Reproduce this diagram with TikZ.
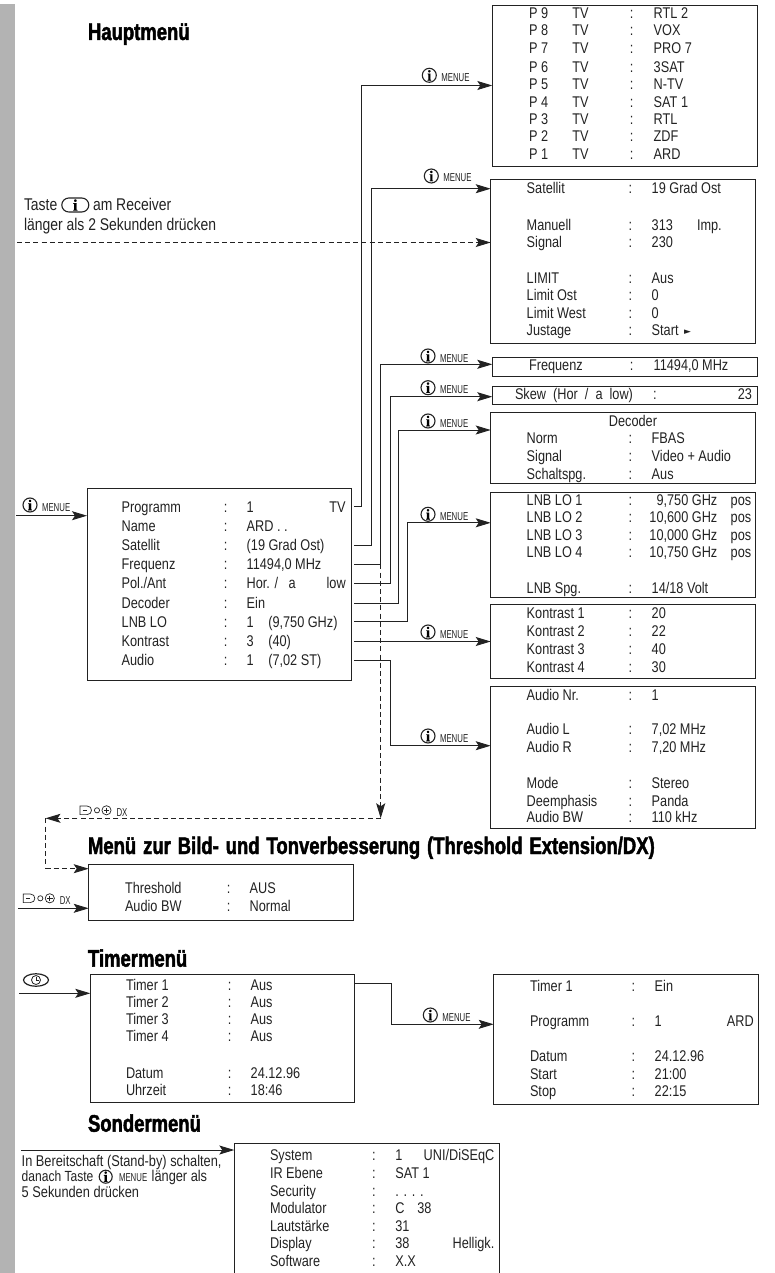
\documentclass[tikz,border=0pt]{standalone}
\usepackage{fontspec}
\usetikzlibrary{arrows.meta,shapes.geometric}
\setmainfont[FakeStretch=0.82]{Liberation Sans}
\newfontfamily\headf[FakeStretch=0.77,FakeBold=1.8]{Liberation Sans Bold}
\newfontfamily\smallf[FakeStretch=0.68]{Liberation Sans}
\newfontfamily\ifont[FakeBold=0.6]{Liberation Serif Bold}
\newfontfamily\symf{DejaVu Sans}
\definecolor{ink}{HTML}{222222}
\definecolor{strip}{HTML}{B3B3B3}
\tikzset{
  x=1pt,y=-1pt,
  mbox/.style={draw=ink,line width=0.9pt,inner sep=0pt,outer sep=0pt,anchor=north west},
  openbox/.style={inner sep=0pt,outer sep=0pt,anchor=north west},
  txt/.style={inner sep=0pt,outer sep=0pt,anchor=base west,text=ink,font=\fontsize{15.5}{17}\selectfont},
  txte/.style={txt,anchor=base east},
  txtc/.style={txt,anchor=base},
  large/.style={txt,font=\fontsize{17}{19}\selectfont},
  small/.style={txt,font=\fontsize{15.6}{17}\selectfont},
  smaller/.style={txt,font=\fontsize{14.7}{17}\selectfont},
  head/.style={inner sep=0pt,outer sep=0pt,anchor=base west,text=black,font=\fontsize{24}{26}\headf},
  menue/.style={inner sep=0pt,outer sep=0pt,anchor=base west,text=ink,font=\fontsize{11.5}{13}\smallf},
  icirc/.style={circle,draw=ink,line width=1.1pt,minimum size=14pt,inner sep=0pt,outer sep=0pt,font=\fontsize{15}{15}\ifont},
  conn/.style={draw=ink,line width=0.9pt,-{Stealth[length=15pt,width=9pt,inset=3pt]}},
  dconn/.style={conn,dash pattern=on 5pt off 3.2pt},
  dline/.style={draw=ink,line width=0.9pt,dash pattern=on 5pt off 3.2pt},
  iconl/.style={draw=ink,line width=0.7pt},
}
\newcounter{tn}
\newcommand\ntx[4][txt]{\stepcounter{tn}\node[#1,name=t\arabic{tn}] at (#2,#3) {#4};}
% row: y, label x, colon x, value x, label, value
\newcommand\mrow[6]{\ntx{#2}{#1}{#5}\ntx[txtc]{#3}{#1}{:}\ntx{#4}{#1}{#6}}
\newcommand\menubox[5]{\node[mbox,name=#1,minimum width=(#4-#2)*1pt,minimum height=(#5-#3)*1pt] at (#2,#3) {};}
\newcommand\imenue[2]{\stepcounter{tn}\node[icirc,name=t\arabic{tn}] at (#1,#2) {i};\ntx[menue]{#1+12}{#2+6}{MENUE}}
\newcommand\dxicon[2]{\begin{scope}[shift={(#1,#2)}]
 \draw[iconl] (0,0) -- (7,0) .. controls (10,0) and (11.5,2) .. (11.5,4.3) .. controls (11.5,6.6) and (10,8.6) .. (7,8.6) -- (0,8.6) -- cycle;
 \draw[iconl] (2.5,4.3) -- (7,4.3);
 \draw[iconl] (17,4.3) circle (2.6);
 \draw[iconl] (26.5,4.3) circle (4.6);
 \draw[iconl] (23.8,4.3) -- (29.2,4.3) (26.5,1.6) -- (26.5,7);
 \end{scope}
 \ntx[menue]{#1+36.5}{#2+10}{DX}}
\begin{document}
\begin{tikzpicture}
\useasboundingbox (0,0) rectangle (774,1273);
\fill[strip] (0,4) rectangle (15,1273);

% headings
\node[head,name=hA] at (88,40) {Hauptmenü};
\node[head,name=hB] at (88,854) {\spaceskip=6.9pt Menü zur Bild- und Tonverbesserung (Threshold Extension/DX)};
\node[head,name=hC] at (88,966.7) {Timermenü};
\node[head,name=hD] at (88,1131.7) {Sondermenü};

% boxes
\menubox{bMain}{87}{488.3}{351.3}{680}
\menubox{bP}{492.3}{5}{757.3}{166}
\menubox{bSat}{490.7}{179}{755.3}{343}
\menubox{bFreq}{492.3}{357.7}{757.3}{376}
\menubox{bSkew}{492.3}{386}{757.3}{404.3}
\menubox{bDec}{490.7}{412.7}{755.3}{483.3}
\menubox{bLnb}{490.7}{492}{755.3}{597.3}
\menubox{bKon}{490.7}{604.3}{755.3}{678}
\menubox{bAud}{490.7}{686.7}{755.3}{828.3}
\menubox{bThr}{88.7}{864}{353.3}{920.3}
\menubox{bTim}{90.3}{974}{354.7}{1102.3}
\menubox{bTd}{493.7}{974}{758.7}{1104.3}
\node[openbox,name=bSon,minimum width=264.7pt,minimum height=129.3pt] at (234.3,1143.7) {};
\draw[draw=ink,line width=0.9pt] (bSon.south west) -- (bSon.north west) -- (bSon.north east) -- (bSon.south east);

% main menu
\mrow{512}{121.7}{225.7}{246.7}{Programm}{1}\ntx[txte]{345.7}{512}{TV}
\mrow{531}{121.7}{225.7}{246.7}{Name}{ARD . .}
\mrow{550}{121.7}{225.7}{246.7}{Satellit}{(19 Grad Ost)}
\mrow{569}{121.7}{225.7}{246.7}{Frequenz}{11494,0 MHz}
\mrow{588}{121.7}{225.7}{246.7}{Pol./Ant}{Hor. /}\ntx{288.7}{588}{a}\ntx[txte]{345.7}{588}{low}
\mrow{608}{121.7}{225.7}{246.7}{Decoder}{Ein}
\mrow{627}{121.7}{225.7}{246.7}{LNB LO}{1}\ntx{268.3}{627}{(9,750 GHz)}
\mrow{646}{121.7}{225.7}{246.7}{Kontrast}{3}\ntx{268.3}{646}{(40)}
\mrow{665}{121.7}{225.7}{246.7}{Audio}{1}\ntx{268.3}{665}{(7,02 ST)}

% program list
\newcommand\prow[3]{\ntx{529}{#1}{#2}\ntx{572.3}{#1}{TV}\ntx[txtc]{631.7}{#1}{:}\ntx{653.7}{#1}{#3}}
\prow{18.3}{P 9}{RTL 2}
\prow{36}{P 8}{VOX}
\prow{54}{P 7}{PRO 7}
\prow{72.3}{P 6}{3SAT}
\prow{90}{P 5}{N-TV}
\prow{107.3}{P 4}{SAT 1}
\prow{125}{P 3}{RTL}
\prow{142}{P 2}{ZDF}
\prow{160}{P 1}{ARD}

% right column rows
\newcommand\rrow[3]{\mrow{#1}{526.7}{630.3}{651.7}{#2}{#3}}
\rrow{194}{Satellit}{19 Grad Ost}
\rrow{230.3}{Manuell}{313}\ntx{697}{230.3}{Imp.}
\rrow{247.3}{Signal}{230}
\rrow{283}{LIMIT}{Aus}
\rrow{300.3}{Limit Ost}{0}
\rrow{318.3}{Limit West}{0}
\rrow{335.3}{Justage}{Start}\ntx[txt,font=\fontsize{9}{10}\symf]{684}{334.5}{►}

\mrow{370.7}{529}{631.7}{653.7}{Frequenz}{11494,0 MHz}
\ntx{515}{399}{Skew\ \ (Hor\ \ /\ \ a\ \ low)}\ntx[txtc]{655}{399}{:}\ntx[txte]{752}{399}{23}

\ntx[txtc]{633}{426}{Decoder}
\rrow{443.3}{Norm}{FBAS}
\rrow{461}{Signal}{Video + Audio}
\rrow{479}{Schaltspg.}{Aus}

\newcommand\lrow[3]{\ntx{526.7}{#1}{#2}\ntx[txtc]{630.3}{#1}{:}\ntx[txte]{717.3}{#1}{#3}\ntx{730.7}{#1}{pos}}
\lrow{505}{LNB LO 1}{9,750 GHz}
\lrow{522}{LNB LO 2}{10,600 GHz}
\lrow{540}{LNB LO 3}{10,000 GHz}
\lrow{557.7}{LNB LO 4}{10,750 GHz}
\rrow{593.3}{LNB Spg.}{14/18 Volt}

\rrow{618.7}{Kontrast 1}{20}
\rrow{636}{Kontrast 2}{22}
\rrow{654}{Kontrast 3}{40}
\rrow{672}{Kontrast 4}{30}

\rrow{700.3}{Audio Nr.}{1}
\rrow{734.7}{Audio L}{7,02 MHz}
\rrow{752.7}{Audio R}{7,20 MHz}
\rrow{788}{Mode}{Stereo}
\rrow{806}{Deemphasis}{Panda}
\rrow{822.7}{Audio BW}{110 kHz}

% threshold
\mrow{893.7}{125}{228.7}{249.7}{Threshold}{AUS}
\mrow{911.7}{125}{228.7}{249.7}{Audio BW}{Normal}

% timer
\newcommand\trow[3]{\mrow{#1}{126}{229.7}{250.7}{#2}{#3}}
\trow{990}{Timer 1}{Aus}
\trow{1007}{Timer 2}{Aus}
\trow{1024.7}{Timer 3}{Aus}
\trow{1041.7}{Timer 4}{Aus}
\trow{1078}{Datum}{24.12.96}
\trow{1095}{Uhrzeit}{18:46}

\newcommand\drow[3]{\mrow{#1}{530}{633.3}{654.7}{#2}{#3}}
\drow{991.3}{Timer 1}{Ein}
\drow{1026.3}{Programm}{1}\ntx[txte]{753.7}{1026.3}{ARD}
\drow{1061.3}{Datum}{24.12.96}
\drow{1079}{Start}{21:00}
\drow{1096}{Stop}{22:15}

% special
\newcommand\srow[3]{\mrow{#1}{270}{374}{395.3}{#2}{#3}}
\srow{1160}{System}{1}\ntx[txte]{494.3}{1160}{UNI/DiSEqC}
\srow{1178}{IR Ebene}{SAT 1}
\srow{1196}{Security}{. . . .}
\srow{1213}{Modulator}{C}\ntx{417.3}{1213}{38}
\srow{1231}{Lautstärke}{31}
\srow{1248.3}{Display}{38}\ntx[txte]{494.3}{1248.3}{Helligk.}
\srow{1266}{Software}{X.X}

% Taste text
\ntx[large]{24}{211}{Taste}
\node[draw=ink,line width=1.1pt,rounded corners=7pt,minimum width=27pt,minimum height=14pt,inner sep=0pt,font=\fontsize{16}{16}\ifont,name=tastei] at (75.3,205) {i};
\ntx[large]{93}{211}{am Receiver}
\ntx[large]{24}{231}{länger als 2 Sekunden drücken}

% stand-by text
\ntx[small]{21.7}{1166}{In Bereitschaft (Stand-by) schalten,}
\ntx[smaller]{21.7}{1181.7}{danach Taste}
\stepcounter{tn}\node[icirc,minimum size=13pt,name=t\arabic{tn}] at (105.7,1176.7) {i};
\ntx[menue]{119}{1181.7}{MENUE}
\ntx[small]{151.7}{1181.7}{länger als}
\ntx[small]{21.7}{1197.7}{5 Sekunden drücken}

% port coordinates
\coordinate (pProg) at (354,506.3);
\coordinate (pSat) at (354,545.3);
\coordinate (pFreq) at (354,564.3);
\coordinate (pPol) at (354,583.7);
\coordinate (pDec) at (354,603.7);
\coordinate (pLnb) at (354,621.3);
\coordinate (pKon) at (354,641.5);
\coordinate (pAud) at (354,660);
\coordinate (xProg) at (361.3,0);
\coordinate (xSat) at (371.7,0);
\coordinate (xFreq) at (380.7,0);
\coordinate (xPol) at (390,0);
\coordinate (xDec) at (398.7,0);
\coordinate (xLnb) at (407,0);
\coordinate (yProg) at (0,85.5);
\coordinate (ySat) at (0,188.7);
\coordinate (yFreq) at (0,364.3);
\coordinate (yPol) at (0,396.7);
\coordinate (yDec) at (0,430);
\coordinate (yLnb) at (0,522.8);
\coordinate (yAud) at (0,745.7);

\draw[conn] (pProg) -- (pProg -| xProg) -- (xProg |- yProg) -- (bP.west |- yProg);
\draw[conn] (pSat) -- (pSat -| xSat) -- (xSat |- ySat) -- (bSat.west |- ySat);
\draw[conn] (pFreq) -- (pFreq -| xFreq) -- (xFreq |- yFreq) -- (bFreq.west |- yFreq);
\draw[conn] (pPol) -- (pPol -| xPol) -- (xPol |- yPol) -- (bSkew.west |- yPol);
\draw[conn] (pDec) -- (pDec -| xDec) -- (xDec |- yDec) -- (bDec.west |- yDec);
\draw[conn] (pLnb) -- (pLnb -| xLnb) -- (xLnb |- yLnb) -- (bLnb.west |- yLnb);
\draw[conn] (pKon) -- (bKon.west |- pKon);
\draw[conn] (pAud) -- (pAud -| xPol) -- (xPol |- yAud) -- (bAud.west |- yAud);

% dashed
\coordinate (dTop) at (17,242.5);
\draw[dconn] (dTop) -- (bSat.west |- dTop);
\coordinate (dCorner) at (380.7,818.3);
\coordinate (dLeft) at (45.5,818.3);
\coordinate (dIn) at (45.5,868.7);
\draw[dconn] (pFreq -| xFreq) -- (dCorner);
\draw[dconn] (dCorner) -- (dLeft);
\draw[dline] (dLeft) -- (dIn);
\draw[dconn] (dIn) -- (bThr.west |- dIn);

% entries
\coordinate (eMain) at (16,515.7);
\draw[conn] (eMain) -- (bMain.west |- eMain);
\coordinate (eThr) at (18,908.3);
\draw[conn] (eThr) -- (bThr.west |- eThr);
\coordinate (eTim) at (19,993.3);
\draw[conn] (eTim) -- (bTim.west |- eTim);
\coordinate (eSon) at (21,1150);
\draw[conn] (eSon) -- (bSon.west |- eSon);
\coordinate (tOut) at (354.7,983.7);
\coordinate (tX) at (391.3,1024.3);
\draw[conn] (tOut) -- (tOut -| tX) -- (tX) -- (bTd.west |- tX);

% icons
\imenue{30}{505}
\imenue{429.3}{75.3}
\imenue{431.3}{176}
\imenue{428}{356}
\imenue{428}{387.7}
\imenue{428}{421}
\imenue{428}{514.3}
\imenue{428}{632}
\imenue{428}{736}
\imenue{430.3}{1015}
\dxicon{80}{806}
\dxicon{23.3}{894}
% clock
\node[ellipse,draw=ink,line width=1.2pt,minimum width=25pt,minimum height=12.5pt,inner sep=0pt,name=clk] at (36,980) {};
\node[circle,draw=ink,line width=0.8pt,minimum size=9pt,inner sep=0pt,name=clki] at (36,980) {};
\draw[iconl] (clki.center) -- +(0,-3) (clki.center) -- +(2.5,0);
\end{tikzpicture}
\end{document}
